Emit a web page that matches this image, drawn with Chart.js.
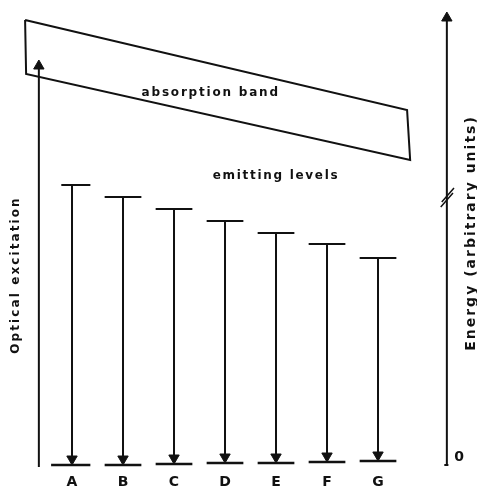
<!DOCTYPE html>
<html>
<head>
<meta charset="utf-8">
<script src="https://cdn.jsdelivr.net/npm/chart.js@4.4.0/dist/chart.umd.min.js"></script>
<style>
    body { margin: 0; background: #fff; }
    #wrap { width: 477px; height: 489px; }
</style>
</head>
<body>
<div id="wrap"><canvas id="levelChart" width="477" height="489"></canvas></div>
<script>
// level index on x, energy (arbitrary units) on y
var levels = ['A', 'B', 'C', 'D', 'E', 'F', 'G'];
var emitting = [280, 268, 256, 244, 232, 221, 207];
var ground = [0, 0, 1, 2, 2, 3, 4];

// absorption band outline, corner by corner
var bandX = [-0.92, 6.57, 6.63, -0.90, -0.92];
var bandY = [445, 355, 305, 391, 445];

var excitationX = -0.65;
var excitationTop = 405;
var energyAxisX = 7.35;
var energyAxisTop = 453;
var energyBreak = 268;

var ink = '#111';
var headSize = 6;
var halfWidth = 0.36;

function pts(xs, ys) {
    var out = [];
    for (var i = 0; i < xs.length; i++) out.push({x: xs[i], y: ys[i]});
    return out;
}

var levelLines = [];
var groundLines = [];
var transitions = [];
levels.forEach(function(l, i) {
    levelLines.push({x: i - halfWidth + (i == 0 ? 0.15 : 0), y: emitting[i]}, {x: i + halfWidth, y: emitting[i]}, {x: i, y: null});
    groundLines.push({x: i - halfWidth - (i == 0 ? 0.05 : 0), y: ground[i]}, {x: i + halfWidth, y: ground[i]}, {x: i, y: null});
    transitions.push({x: i, y: emitting[i]}, {x: i, y: ground[i] + headSize, head: true, rot: 180}, {x: i, y: null});
});

var excitation = [{x: excitationX, y: -2}, {x: excitationX, y: excitationTop - headSize, head: true, rot: 0}];
var energyAxis = [{x: energyAxisX, y: 0}, {x: energyAxisX, y: energyAxisTop - headSize, head: true, rot: 0}];
var breakMarks = [
    {x: energyAxisX - 0.12, y: energyBreak - 10}, {x: energyAxisX + 0.12, y: energyBreak + 4}, {x: energyAxisX, y: null},
    {x: energyAxisX - 0.1, y: energyBreak - 5}, {x: energyAxisX + 0.14, y: energyBreak + 9}
];
var zeroTick = [{x: energyAxisX - 0.05, y: 0}, {x: energyAxisX + 0.03, y: 0}];

function lineSet(data, width) {
    return {
        data: data,
        borderColor: ink,
        backgroundColor: ink,
        borderWidth: width,
        fill: false,
        tension: 0,
        spanGaps: false,
        pointStyle: 'triangle',
        pointRadius: function(c) { return c.raw && c.raw.head ? headSize : 0; },
        pointRotation: function(c) { return c.raw && c.raw.rot ? c.raw.rot : 0; },
        pointBackgroundColor: ink,
        pointBorderColor: ink,
        pointBorderWidth: 1
    };
}

function label(c, text, px, py, font, spacing, vertical) {
    c.save();
    c.fillStyle = ink;
    c.textAlign = 'center';
    c.textBaseline = 'middle';
    c.font = font;
    c.letterSpacing = spacing;
    c.translate(px, py);
    if (vertical) c.rotate(-Math.PI / 2);
    c.fillText(text, 0, 0);
    c.restore();
}

var textPlugin = {
    id: 'diagramText',
    afterDatasetsDraw: function(chart) {
        var c = chart.ctx;
        var xs = chart.scales.x;
        var ys = chart.scales.y;

        levels.forEach(function(l, i) {
            label(c, l, xs.getPixelForValue(i), ys.getPixelForValue(-17), 'bold 14px "DejaVu Sans"', '0px');
        });
        label(c, '0', xs.getPixelForValue(energyAxisX + 0.24), ys.getPixelForValue(8), 'bold 14px "DejaVu Sans"', '0px');

        label(c, 'absorption band', xs.getPixelForValue(2.72), ys.getPixelForValue(372), 'bold 12px "DejaVu Sans"', '1.8px');
        label(c, 'emitting levels', xs.getPixelForValue(4.0), ys.getPixelForValue(289), 'bold 12px "DejaVu Sans"', '1.7px');
        label(c, 'Optical excitation', xs.getPixelForValue(-1.1), ys.getPixelForValue(190), 'bold 12px "DejaVu Sans"', '2.1px', true);
        label(c, 'Energy (arbitrary units)', xs.getPixelForValue(7.84), ys.getPixelForValue(232), 'bold 14px "DejaVu Sans"', '2px', true);
    }
};

var ctx = document.getElementById('levelChart').getContext('2d');
var levelChart = new Chart(ctx, {
    type: 'line',
    data: {
        datasets: [
            lineSet(pts(bandX, bandY), 2),
            lineSet(levelLines, 2),
            lineSet(groundLines, 2.5),
            lineSet(transitions, 2),
            lineSet(excitation, 2),
            lineSet(energyAxis, 2),
            lineSet(breakMarks, 1.5),
            lineSet(zeroTick, 2)
        ]
    },
    options: {
        responsive: false,
        animation: false,
        layout: { padding: 0, autoPadding: false },
        plugins: {
            legend: { display: false },
            tooltip: { enabled: false }
        },
        scales: {
            x: { type: 'linear', min: -1.412, max: 7.941, display: false },
            y: { type: 'linear', min: -24, max: 465, display: false }
        }
    },
    plugins: [textPlugin]
});
</script>
</body>
</html>
